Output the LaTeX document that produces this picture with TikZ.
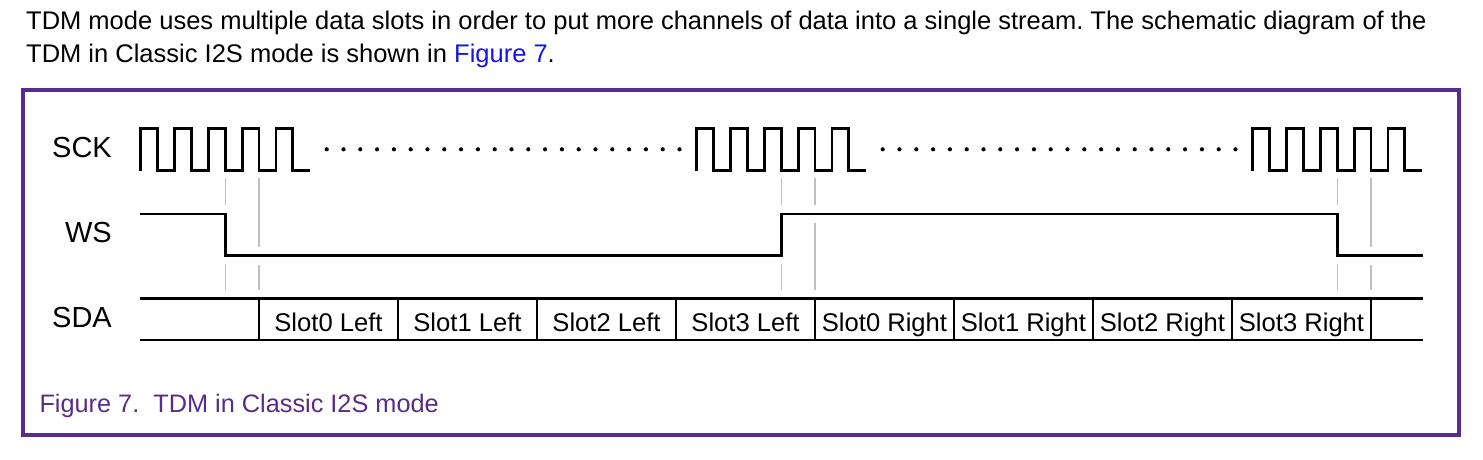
\documentclass[tikz,border=0pt]{standalone}
\usepackage{fontspec}
\setmainfont{Liberation Sans}
\definecolor{framepurple}{RGB}{88,44,136}
\definecolor{linkblue}{RGB}{20,20,235}
\frenchspacing
\begin{document}
\begin{tikzpicture}[x=1pt, y=-1pt,
    signal/.style={line width=2.8pt, line join=miter},
    guide/.style={gray!50, line width=1.1pt},
    siglabel/.style={anchor=base east, inner sep=0pt, font=\fontsize{29}{34}\selectfont},
    slotlabel/.style={anchor=base, inner sep=0pt, font=\fontsize{25.6}{30}\selectfont}]
    \useasboundingbox (0,0) rectangle (1483,459);
    % text above the figure
    \node[anchor=base west, inner sep=0pt, font=\fontsize{25.5}{32}\selectfont] (intro1) at (26,29) {TDM mode uses multiple data slots in order to put more channels of data into a single stream. The schematic diagram of the};
    \node[anchor=base west, inner sep=0pt, font=\fontsize{25.5}{32}\selectfont] (intro2) at (26,62.3) {TDM in Classic I2S mode is shown in \textcolor{linkblue}{Figure 7}.};
    % figure frame
    \draw[framepurple, line width=4pt] (22.5,90) rectangle (1459,435);
    % signal names
    \node[siglabel] (sck) at (112,157) {SCK};
    \node[siglabel] (ws) at (112,242) {WS};
    \node[siglabel] (sda) at (112,327.3) {SDA};
    % SCK bursts
    \foreach \xs in {140.7, 696.7, 1252.7} {
        \draw[signal] (\xs,170.5) \foreach \k in {1,...,5} { -- ++(0,-42) -- ++(16.9,0) -- ++(0,42) -- ++(16.9,0) };
    }
    \foreach \xs in {140.7, 696.7} {
        \foreach \d in {0,...,21} {
            \fill (\xs+186+\d*16.8,149.3) circle[radius=2.1pt];
        }
    }
    % WS
    \draw[signal] (140,214) -- (225.2,214) -- (225.2,255.7) -- (781.2,255.7) -- (781.2,214) -- (1337.2,214) -- (1337.2,255.7) -- (1422.7,255.7);
    % guide lines
    \foreach \xs in {140.7, 1252.7} {
        \draw[guide] (\xs+84.5,178) -- (\xs+84.5,205);
        \draw[guide] (\xs+84.5,264) -- (\xs+84.5,290);
        \draw[guide] (\xs+118.3,178) -- (\xs+118.3,247);
        \draw[guide] (\xs+118.3,265) -- (\xs+118.3,290);
    }
    \draw[guide] (781.2,178) -- (781.2,205);
    \draw[guide] (781.2,264) -- (781.2,290);
    \draw[guide] (815,178) -- (815,205);
    \draw[guide] (815,223) -- (815,290);
    % SDA
    \draw[signal] (140,298.3) -- (1422.7,298.3);
    \draw[signal] (140,340) -- (1422.7,340);
    \foreach \i in {0,...,8} {
        \draw[line width=2pt] (259+139*\i,298.3) -- (259+139*\i,340);
    }
    \foreach [count=\i from 0] \lbl in {Slot0 Left, Slot1 Left, Slot2 Left, Slot3 Left, Slot0 Right, Slot1 Right, Slot2 Right, Slot3 Right} {
        \node[slotlabel] (slot\i) at (328.5+139*\i,331.7) {\lbl};
    }
    % caption
    \node[anchor=base west, inner sep=0pt, text=framepurple, font=\fontsize{25.3}{30}\selectfont] (caption) at (39.3,412.7) {Figure 7.\ \ TDM in Classic I2S mode};
\end{tikzpicture}
\end{document}
